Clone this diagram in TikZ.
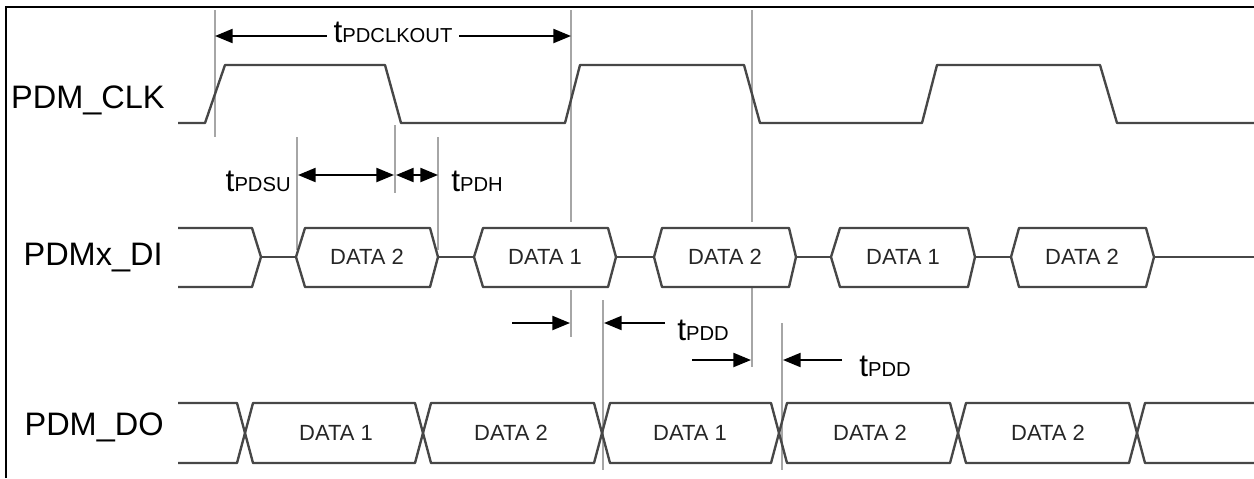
\documentclass[tikz,border=0pt]{standalone}
\usepackage{fontspec}
\setmainfont{Liberation Sans}
\usepackage{tikz}
\usetikzlibrary{arrows.meta}
\tikzstyle{sig}=[line width=1.35pt, draw=black!72, line join=round]
\tikzstyle{guide}=[line width=0.6pt, draw=black!35]
\tikzstyle{dim}=[line width=1pt, {Triangle[length=10pt,width=8pt]}-{Triangle[length=10pt,width=8pt]}]
\tikzstyle{dimr}=[line width=1pt, -{Triangle[length=10pt,width=8pt]}]
\tikzstyle{lbl}=[inner sep=0pt, font=\fontsize{18.5}{20}\selectfont]
\tikzstyle{dat}=[inner sep=0pt, text=black!85, font=\fontsize{12.5}{14}\selectfont]
\tikzstyle{tlb}=[inner sep=0pt]
\newcommand{\tpd}[1]{{\fontsize{18}{18}\selectfont t}{\fontsize{11.5}{12}\selectfont #1}}

\begin{document}
\begin{tikzpicture}[x=0.02cm, y=-0.02cm]
\useasboundingbox (0,0) rectangle (1254,478);
% frame
\draw[line width=1.3pt] (6,478) -- (6,7) -- (1254,7);

% guide lines
\draw[guide] (215,10) -- (215,137);
\draw[guide] (571,10) -- (571,222);
\draw[guide] (571,290) -- (571,337);
\draw[guide] (752,10) -- (752,222);
\draw[guide] (752,288) -- (752,367);
\draw[guide] (395,125) -- (395,193);
\draw[guide] (297,137) -- (297,250);
\draw[guide] (438,137) -- (438,250);
\draw[guide] (603,300) -- (603,470);
\draw[guide] (782,323) -- (782,470);

% signal names
\node[lbl, anchor=base east] (clk) at (165,108) {PDM\_CLK};
\node[lbl, anchor=base east] (di) at (163,265) {PDMx\_DI};
\node[lbl, anchor=base east] (do) at (164,435) {PDM\_DO};

% PDM_CLK
\draw[sig] (178,123) -- (205,123) -- (225,65) -- (385,65) -- (401,123) -- (565,123) -- (580,65) -- (744,65) -- (760,123) -- (922,123) -- (937,65) -- (1100,65) -- (1117,123) -- (1254,123);

% PDMx_DI
\draw[sig] (178,228) -- (252,228) -- (261,257) -- (252,287) -- (178,287);
\draw[sig] (261,257) -- (296,257);
\draw[sig] (296,257) -- (305,228) -- (430,228) -- (438,257) -- (430,287) -- (305,287) -- cycle;
\draw[sig] (438,257) -- (474,257);
\draw[sig] (474,257) -- (483,228) -- (608,228) -- (616,257) -- (608,287) -- (483,287) -- cycle;
\draw[sig] (616,257) -- (654,257);
\draw[sig] (654,257) -- (662,228) -- (789,228) -- (796,257) -- (789,287) -- (662,287) -- cycle;
\draw[sig] (796,257) -- (831,257);
\draw[sig] (831,257) -- (840,228) -- (968,228) -- (975,257) -- (968,287) -- (840,287) -- cycle;
\draw[sig] (975,257) -- (1011,257);
\draw[sig] (1011,257) -- (1019,228) -- (1146,228) -- (1154,257) -- (1146,287) -- (1019,287) -- cycle;
\draw[sig] (1154,257) -- (1254,257);

\node[dat] (di1) at (367,257) {DATA 2};
\node[dat] (di2) at (545,257) {DATA 1};
\node[dat] (di3) at (725,257) {DATA 2};
\node[dat] (di4) at (903,257) {DATA 1};
\node[dat] (di5) at (1082,257) {DATA 2};

% PDM_DO
\draw[sig] (178,403) -- (237,403) -- (253,463) -- (415,463) -- (431,403) -- (594,403) -- (610,463) -- (771,463) -- (787,403) -- (950,403) -- (966,463) -- (1129,463) -- (1145,403) -- (1254,403);
\draw[sig] (178,463) -- (237,463) -- (253,403) -- (415,403) -- (431,463) -- (594,463) -- (610,403) -- (771,403) -- (787,463) -- (950,463) -- (966,403) -- (1129,403) -- (1145,463) -- (1254,463);

\node[dat] (do1) at (336,433) {DATA 1};
\node[dat] (do2) at (511,433) {DATA 2};
\node[dat] (do3) at (690,433) {DATA 1};
\node[dat] (do4) at (870,433) {DATA 2};
\node[dat] (do5) at (1048,433) {DATA 2};

% timing arrows
\coordinate (ck1) at (215,36);
\coordinate (ck2) at (571,36);
\draw[dim] (ck1) -- node[fill=white, inner xsep=4pt, inner ysep=0pt, yshift=2pt] (tclk) {\tpd{PDCLKOUT}} (ck2);

\coordinate (su1) at (298,175);
\coordinate (su2) at (394,175);
\coordinate (h1) at (396,175);
\coordinate (h2) at (438,175);
\draw[dim] (su1) -- (su2);
\draw[dim] (h1) -- (h2);
\node[tlb, anchor=base east] (tsu) at (291,191) {\tpd{PDSU}};
\node[tlb, anchor=base west] (th) at (451,191) {\tpd{PDH}};

\coordinate (d1a) at (512,323);
\coordinate (d1b) at (570,323);
\coordinate (d1c) at (665,323);
\coordinate (d1d) at (604,323);
\draw[dimr] (d1a) -- (d1b);
\draw[dimr] (d1c) -- (d1d);
\node[tlb, anchor=base west] (td1) at (677,340) {\tpd{PDD}};

\coordinate (d2a) at (692,360);
\coordinate (d2b) at (751,360);
\coordinate (d2c) at (842,360);
\coordinate (d2d) at (783,360);
\draw[dimr] (d2a) -- (d2b);
\draw[dimr] (d2c) -- (d2d);
\node[tlb, anchor=base west] (td2) at (859,376) {\tpd{PDD}};
\end{tikzpicture}
\end{document}
